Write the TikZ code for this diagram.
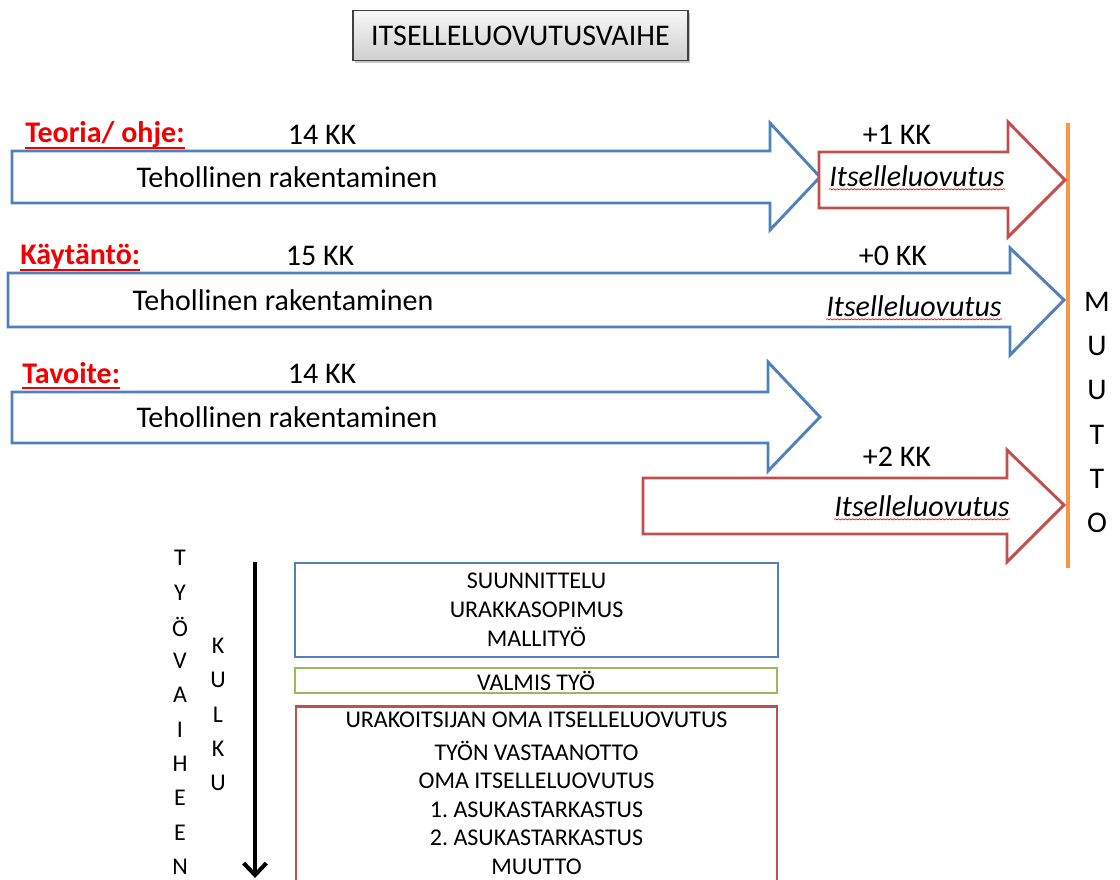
\documentclass[tikz,border=0pt]{standalone}
\usepackage{fontspec}
\setmainfont{Carlito}
\usetikzlibrary{calc,decorations.pathmorphing,shadows,arrows.meta}
\definecolor{ablue}{RGB}{79,129,189}
\definecolor{ared}{RGB}{192,80,77}
\definecolor{agreen}{RGB}{155,187,89}
\definecolor{aorange}{RGB}{247,150,70}
\definecolor{lred}{RGB}{240,0,0}
\tikzset{
  bluearrow/.style={draw=ablue, line width=2.2pt, fill=white, line join=miter},
  redarrow/.style={draw=ared, line width=2.2pt, fill=white, line join=miter},
  txt/.style={inner sep=0pt, font=\fontsize{22.5}{27}\selectfont},
  itx/.style={inner sep=0pt, font=\fontsize{22.5}{27}\selectfont\itshape},
  lab/.style={inner sep=0pt, text=lred, font=\fontsize{22.5}{27}\selectfont\bfseries},
  labline/.style={draw=lred, line width=1.5pt},
  spell/.style={draw=red, line width=0.5pt, decorate, decoration={snake, amplitude=0.45pt, segment length=2.6pt}},
  box/.style={line width=2.2pt, fill=white, inner sep=0pt},
  boxtxt/.style={inner sep=0pt, align=center, font=\fontsize{18}{21.75}\selectfont},
  boxtxtb/.style={inner sep=0pt, align=center, font=\fontsize{18}{21.4}\selectfont},
  vlet/.style={inner sep=0pt, font=\fontsize{18}{21}\selectfont},
  mlet/.style={inner sep=0pt, font=\fontsize{22.5}{27}\selectfont},
  titlebox/.style={draw=black!75, line width=0.9pt, top color=gray!6, bottom color=gray!38,
    minimum width=251.25pt, minimum height=37.5pt, inner sep=0pt,
    font=\fontsize{22.5}{27}\selectfont, drop shadow={shadow xshift=1.5pt, shadow yshift=-2pt, opacity=0.45}},
}
\begin{document}
\begin{tikzpicture}[x=0.75pt,y=-0.75pt]
\useasboundingbox (0,0) rectangle (1120,879);
\clip (0,0) rectangle (1120,879);

% title
\node[titlebox] (title) at (520.5,35.5) {ITSELLELUOVUTUSVAIHE};

% orange MUUTTO line
\coordinate (o1) at (1068,123);
\coordinate (o2) at (1068,568);
\draw[draw=aorange, line width=2.3pt] (o1) -- (o2);

% row 1
\draw[bluearrow] (12,151) -- (770,151) -- (770,123) -- (820,177) -- (770,230) -- (770,203) -- (12,203) -- cycle;
\draw[redarrow] (819,152) -- (1008,152) -- (1008,122) -- (1065,180) -- (1008,237) -- (1008,208) -- (819,208) -- cycle;
\node[lab, anchor=west] (l1) at (25,135) {Teoria/ ohje:};
\draw[labline] ($(l1.base west)+(0,5)$) -- ($(l1.base east)+(0,5)$);
\node[txt] (k1) at (322,135) {14 KK};
\node[txt] (t1) at (287,177) {Tehollinen rakentaminen};
\node[txt] (p1) at (897,135) {+1 KK};
\node[itx] (i1) at (917,176) {Itselleluovutus};
\draw[spell] ($(i1.base west)+(0,3)$) -- ($(i1.base east)+(0,3)$);

% row 2
\draw[bluearrow] (8,273) -- (1010,273) -- (1010,248) -- (1064,300) -- (1010,355) -- (1010,327) -- (8,327) -- cycle;
\node[lab, anchor=west] (l2) at (20,257) {Käytäntö:};
\draw[labline] ($(l2.base west)+(0,5)$) -- ($(l2.base east)+(0,5)$);
\node[txt] (k2) at (320,256) {15 KK};
\node[txt] (t2) at (283,300) {Tehollinen rakentaminen};
\node[txt] (p2) at (893,256) {+0 KK};
\node[itx] (i2) at (914,306) {Itselleluovutus};
\draw[spell] ($(i2.base west)+(0,3)$) -- ($(i2.base east)+(0,3)$);

% row 3
\draw[bluearrow] (12,392) -- (768,392) -- (768,362) -- (820,417) -- (768,471) -- (768,443) -- (12,443) -- cycle;
\node[lab, anchor=west] (l3) at (22,373) {Tavoite:};
\draw[labline] ($(l3.base west)+(0,5)$) -- ($(l3.base east)+(0,5)$);
\node[txt] (k3) at (322,374) {14 KK};
\node[txt] (t3) at (287,417) {Tehollinen rakentaminen};

% red arrow 3
\draw[redarrow] (643,478) -- (1007,478) -- (1007,450) -- (1064,505) -- (1007,562) -- (1007,534) -- (643,534) -- cycle;
\node[txt] (p3) at (897,457) {+2 KK};
\node[itx] (i3) at (922,506) {Itselleluovutus};
\draw[spell] ($(i3.base west)+(0,3)$) -- ($(i3.base east)+(0,3)$);

% MUUTTO
\foreach \l [count=\i] in {M,U,U,T,T,O}
  \node[mlet] (mu\i) at (1097,{302+44.2*(\i-1)}) {\l};

% TYÖVAIHEEN and KULKU
\foreach \l [count=\i] in {T,Y,Ö,V,A,I,H,E,E,N}
  \node[vlet] (tv\i) at (180,{558+34.3*(\i-1)}) {\l};
\foreach \l [count=\i] in {K,U,L,K,U}
  \node[vlet] (ku\i) at (218,{646+34.25*(\i-1)}) {\l};

% black flow arrow
\coordinate (a1) at (255,562);
\coordinate (a2) at (255,878);
\draw[line width=3pt, -{Straight Barb[length=9pt,width=17pt,line width=3pt]}] (a1) -- (a2);

% boxes
\node[box, draw=ablue, minimum width=362.25pt, minimum height=70.5pt, boxtxt] (b1) at (536.5,610)
  {SUUNNITTELU\\URAKKASOPIMUS\\MALLITYÖ};
\node[box, draw=agreen, minimum width=361.5pt, minimum height=18.75pt, boxtxt] (b2) at (536,680.5) {VALMIS TYÖ};
\node[box, draw=ared, anchor=north, minimum width=360.75pt, minimum height=160pt] (b3) at (536.5,705) {};
\node[boxtxtb, anchor=north] (b3t) at (536.5,712)
  {URAKOITSIJAN OMA ITSELLELUOVUTUS\\[3pt]TYÖN VASTAANOTTO\\OMA ITSELLELUOVUTUS\\1.\ ASUKASTARKASTUS\\2.\ ASUKASTARKASTUS\\MUUTTO};
\end{tikzpicture}
\end{document}
